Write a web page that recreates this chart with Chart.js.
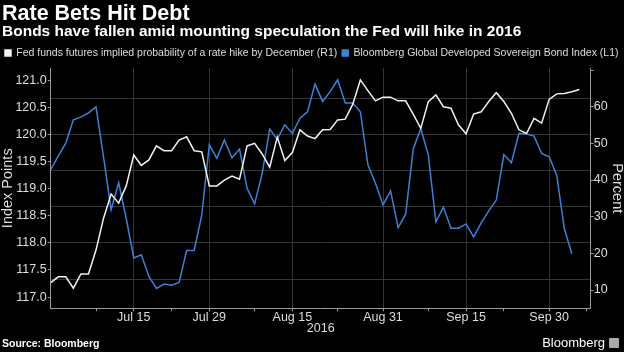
<!DOCTYPE html>
<html>
<head>
<meta charset="utf-8">
<script src="https://cdn.jsdelivr.net/npm/chart.js@4.4.1/dist/chart.umd.min.js"></script>
<style>
  html, body { margin: 0; padding: 0; background: #000; }
  #wrap { position: relative; width: 624px; height: 352px; background: #000; overflow: hidden;
          font-family: 'Liberation Sans', Arial, sans-serif; color: #fff; }
  #chart { position: absolute; left: 0; top: 0; }
  .title { position: absolute; left: 2px; top: 2.6px; font-size: 21.5px; line-height: 1; font-weight: bold; white-space: nowrap; }
  .subtitle { position: absolute; left: 2px; top: 23px; font-size: 15.5px; line-height: 1; font-weight: bold; white-space: nowrap; }
  .source { position: absolute; left: 2px; top: 338px; font-size: 10.5px; line-height: 1; font-weight: bold; white-space: nowrap; }
  .brand { position: absolute; right: 5px; top: 335.7px; font-size: 13px; line-height: 1; white-space: nowrap; }
  .brand span { display: inline-block; width: 10px; height: 10px; background: #aaa; border-radius: 1px;
                margin-left: 4px; vertical-align: -1px; }
</style>
</head>
<body>
<div id="wrap">
  <canvas id="chart" width="624" height="352"></canvas>
  <div class="title">Rate Bets Hit Debt</div>
  <div class="subtitle">Bonds have fallen amid mounting speculation the Fed will hike in 2016</div>
  <div class="source">Source: Bloomberg</div>
  <div class="brand">Bloomberg<span></span></div>
</div>
<script>
// Jours ouvrés du 30 juin au 7 octobre 2016
const dates = [
  'Jun 30', 'Jul 1',
  'Jul 4', 'Jul 5', 'Jul 6', 'Jul 7', 'Jul 8',
  'Jul 11', 'Jul 12', 'Jul 13', 'Jul 14', 'Jul 15',
  'Jul 18', 'Jul 19', 'Jul 20', 'Jul 21', 'Jul 22',
  'Jul 25', 'Jul 26', 'Jul 27', 'Jul 28', 'Jul 29',
  'Aug 1', 'Aug 2', 'Aug 3', 'Aug 4', 'Aug 5',
  'Aug 8', 'Aug 9', 'Aug 10', 'Aug 11', 'Aug 12',
  'Aug 15', 'Aug 16', 'Aug 17', 'Aug 18', 'Aug 19',
  'Aug 22', 'Aug 23', 'Aug 24', 'Aug 25', 'Aug 26',
  'Aug 29', 'Aug 30', 'Aug 31', 'Sep 1', 'Sep 2',
  'Sep 5', 'Sep 6', 'Sep 7', 'Sep 8', 'Sep 9',
  'Sep 12', 'Sep 13', 'Sep 14', 'Sep 15', 'Sep 16',
  'Sep 19', 'Sep 20', 'Sep 21', 'Sep 22', 'Sep 23',
  'Sep 26', 'Sep 27', 'Sep 28', 'Sep 29', 'Sep 30',
  'Oct 3', 'Oct 4', 'Oct 5', 'Oct 6', 'Oct 7'
];

// Dates étiquetées sur l'axe et petites graduations intermédiaires
const labeledDates = ['Jul 15', 'Jul 29', 'Aug 15', 'Aug 31', 'Sep 15', 'Sep 30'];
const minorDates = ['Jul 8', 'Jul 22', 'Aug 8', 'Aug 23', 'Sep 8', 'Sep 22', 'Oct 7'];

// Probabilité implicite de hausse des taux (%), axe droit
const fedProbability = [
  12.0, 13.6, 13.6, 10.5, 14.4, 14.4, 20.9, 29.6, 36.2, 33.7,
  38.4, 46.8, 44.0, 45.5, 49.3, 48.0, 48.0, 50.9, 51.8, 48.0,
  47.7, 38.4, 38.4, 40.0, 41.1, 40.2, 49.3, 50.0, 47.1, 43.5,
  51.7, 45.3, 47.5, 53.7, 52.0, 51.3, 53.7, 53.8, 56.4, 56.6,
  60.7, 67.3, 64.4, 61.6, 62.6, 62.6, 61.6, 61.6, 58.0, 54.1,
  61.4, 63.2, 60.0, 59.6, 55.0, 52.6, 58.0, 58.6, 61.4, 63.8,
  61.4, 58.2, 53.7, 52.7, 56.8, 55.5, 62.0, 63.5, 63.6, 64.1,
  64.7
];

// Indice obligataire souverain (points), axe gauche
const bondIndex = [
  119.35, 119.60, 119.84, 120.27, 120.32, 120.40, 120.51, 119.58, 118.61, 119.11,
  118.45, 117.72, 117.78, 117.38, 117.16, 117.24, 117.22, 117.27, 117.86, 117.86,
  118.51, 119.81, 119.56, 119.90, 119.57, 119.73, 119.01, 118.72, 119.28, 120.10,
  119.91, 120.18, 120.02, 120.30, 120.42, 120.93, 120.61, 120.79, 121.01, 120.58,
  120.58, 120.42, 119.44, 119.10, 118.70, 118.96, 118.28, 118.53, 119.73, 120.11,
  119.62, 118.39, 118.66, 118.27, 118.27, 118.35, 118.11, 118.37, 118.59, 118.79,
  119.63, 119.48, 120.02, 120.01, 119.97, 119.65, 119.59, 119.25, 118.27, 117.80
];

const leftTicks = [117.0, 117.5, 118.0, 118.5, 119.0, 119.5, 120.0, 120.5, 121.0];
const rightTicks = [10, 20, 30, 40, 50, 60, 70];
const gridLevels = [117.333, 118.0, 118.667, 119.333, 120.0, 120.667];

const FONT = "'Liberation Sans', Arial, sans-serif";
const BLUE = '#3b82d4';
const AXIS = '#9a9a9a';
const GRID = '#353535';

const majorIdx = labeledDates.map(d => dates.indexOf(d));
const minorIdx = minorDates.map(d => dates.indexOf(d));

const toPoints = arr => arr.map((v, i) => ({ x: i, y: v }));

const ctx = document.getElementById('chart').getContext('2d');

new Chart(ctx, {
  type: 'line',
  data: {
    datasets: [{
      label: 'Fed funds futures implied probability of a rate hike by December (R1)',
      data: toPoints(fedProbability),
      yAxisID: 'yRight',
      borderColor: '#f2f2f2',
      backgroundColor: '#f2f2f2',
      borderWidth: 1.5,
      pointRadius: 0,
      tension: 0
    }, {
      label: 'Bloomberg Global Developed Sovereign Bond Index (L1)',
      data: toPoints(bondIndex),
      yAxisID: 'yLeft',
      borderColor: BLUE,
      backgroundColor: BLUE,
      borderWidth: 1.5,
      pointRadius: 0,
      tension: 0
    }]
  },
  options: {
    responsive: false,
    devicePixelRatio: 1,
    animation: false,
    layout: { padding: { top: 42.7, bottom: 16, left: 0, right: 0 } },
    plugins: {
      tooltip: { enabled: false },
      legend: {
        position: 'top',
        align: 'start',
        labels: {
          boxWidth: 6,
          boxHeight: 6,
          padding: 5,
          color: '#dddddd',
          font: { family: FONT, size: 10.5 }
        }
      }
    },
    scales: {
      x: {
        type: 'linear',
        min: 0,
        max: 71.5,
        afterBuildTicks: s => {
          s.ticks = majorIdx.concat(minorIdx).sort((a, b) => a - b).map(v => ({ value: v }));
        },
        afterFit: s => { s.height = 27.7; },
        ticks: {
          autoSkip: false,
          maxRotation: 0,
          padding: -1,
          color: '#dddddd',
          font: { family: FONT, size: 12.5 },
          callback: v => (majorIdx.includes(v) ? dates[v] : '')
        },
        grid: {
          color: c => (c.tick && majorIdx.includes(c.tick.value) ? GRID : 'rgba(0,0,0,0)'),
          tickColor: AXIS,
          tickLength: 3
        },
        border: { color: AXIS },
        title: {
          display: true,
          text: '2016',
          color: '#dddddd',
          font: { family: FONT, size: 12.5 },
          padding: 0
        }
      },
      yLeft: {
        position: 'left',
        min: 116.793,
        max: 121.223,
        afterBuildTicks: s => { s.ticks = leftTicks.map(v => ({ value: v })); },
        afterFit: s => { s.width = 50.7; },
        ticks: {
          padding: 1,
          color: '#dddddd',
          font: { family: FONT, size: 12.5 },
          callback: v => v.toFixed(1)
        },
        grid: { drawOnChartArea: false, tickColor: AXIS, tickLength: 3 },
        border: { color: AXIS },
        title: {
          display: true,
          text: 'Index Points',
          color: '#dddddd',
          font: { family: FONT, size: 14.5 },
          padding: { top: -1, bottom: 0 }
        }
      },
      yGrid: {
        position: 'left',
        min: 116.793,
        max: 121.223,
        afterBuildTicks: s => { s.ticks = gridLevels.map(v => ({ value: v })); },
        afterFit: s => { s.width = 0; },
        ticks: { display: false },
        grid: { color: GRID, drawTicks: false },
        border: { display: false }
      },
      yRight: {
        position: 'right',
        min: 5.02,
        max: 70.5,
        afterBuildTicks: s => { s.ticks = rightTicks.map(v => ({ value: v })); },
        afterFit: s => { s.width = 33.3; },
        ticks: {
          padding: 0,
          color: '#dddddd',
          font: { family: FONT, size: 12.5 },
          callback: v => (v === 70 ? '' : String(v))
        },
        grid: { drawOnChartArea: false, tickColor: AXIS, tickLength: 3 },
        border: { color: AXIS },
        title: {
          display: true,
          text: 'Percent',
          color: '#dddddd',
          font: { family: FONT, size: 14.5 },
          padding: { top: -2, bottom: 0 }
        }
      }
    }
  }
});
</script>
</body>
</html>
